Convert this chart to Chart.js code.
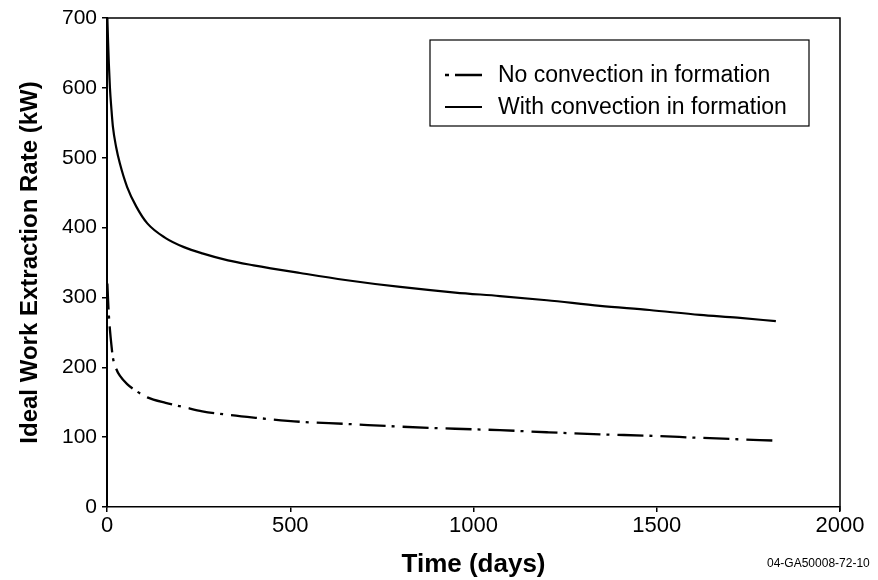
<!DOCTYPE html>
<html>
<head>
<meta charset="utf-8">
<script src="https://cdn.jsdelivr.net/npm/chart.js@4/dist/chart.umd.min.js"></script>
<style>
html,body{margin:0;padding:0;background:#fff;}
#wrap{width:878px;height:580px;position:relative;}
</style>
</head>
<body>
<div id="wrap"><canvas id="c" width="878" height="580"></canvas></div>
<script>
const days = [1, 3, 5, 8, 12, 16, 25, 35, 55, 80, 110, 160, 210, 260, 330, 400, 527, 650, 800, 950, 1072, 1200, 1345, 1480, 1618, 1720, 1825];
const withConvection = [700, 665, 635, 600, 570, 545, 515, 492, 458, 430, 406, 385, 372, 363, 353, 346, 335, 325, 315, 307, 302, 296, 288, 282, 275, 271, 266];
const noConvection = [320, 295, 275, 254, 232, 214, 198, 188, 176, 166, 157, 149, 143, 137, 132, 128, 122, 119, 115, 112, 110, 107, 104, 102, 99, 97, 95];
const seriesNames = ['No convection in formation', 'With convection in formation'];
const xTicks = [0, 500, 1000, 1500, 2000];
const yTicks = [0, 100, 200, 300, 400, 500, 600, 700];
const xTitle = 'Time (days)';
const yTitle = 'Ideal Work Extraction Rate (kW)';
const footnote = '04-GA50008-72-10';

const FONT = "'Liberation Sans', Arial, sans-serif";

const boxPlugin = {
  id: 'boxPlugin',
  afterDraw(chart) {
    const ctx = chart.ctx, a = chart.chartArea;
    ctx.save();
    ctx.strokeStyle = '#000';
    ctx.lineWidth = 1.5;
    ctx.beginPath();
    ctx.moveTo(a.left, a.top); ctx.lineTo(a.right, a.top); ctx.lineTo(a.right, a.bottom + 4);
    ctx.stroke();
    // legend
    const lx = 430, ly = 40, lw = 379, lh = 86;
    ctx.fillStyle = '#fff';
    ctx.fillRect(lx, ly, lw, lh);
    ctx.lineWidth = 1.2;
    ctx.strokeRect(lx, ly, lw, lh);
    ctx.font = '23px ' + FONT;
    ctx.fillStyle = '#000';
    ctx.textBaseline = 'middle';
    const rows = [75, 107];
    chart.data.datasets.forEach((ds, i) => {
      const y = rows[i];
      ctx.save();
      ctx.strokeStyle = '#000';
      ctx.lineWidth = ds.borderWidth;
      ctx.beginPath();
      if (ds.borderDash && ds.borderDash.length) {
        ctx.moveTo(445, y); ctx.lineTo(449, y);
        ctx.moveTo(455, y); ctx.lineTo(482, y);
      } else {
        ctx.moveTo(445, y); ctx.lineTo(482, y);
      }
      ctx.stroke();
      ctx.restore();
      ctx.fillText(ds.label, 498, y + 1);
    });
    // footnote
    ctx.font = '12px ' + FONT;
    ctx.textAlign = 'left';
    ctx.fillText(footnote, 767, 564);
    ctx.restore();
  }
};

new Chart(document.getElementById('c'), {
  type: 'scatter',
  data: {
    datasets: [
      {
        label: seriesNames[0],
        data: days.map((d, i) => ({x: d, y: noConvection[i]})),
        showLine: true, pointRadius: 0, borderColor: '#000', borderWidth: 2.3,
        borderDash: [26, 6, 3, 8], cubicInterpolationMode: 'monotone', fill: false
      },
      {
        label: seriesNames[1],
        data: days.map((d, i) => ({x: d, y: withConvection[i]})),
        showLine: true, pointRadius: 0, borderColor: '#000', borderWidth: 2.2,
        cubicInterpolationMode: 'monotone', fill: false
      }
    ]
  },
  options: {
    responsive: false,
    animation: false,
    devicePixelRatio: 1,
    layout: { padding: { top: 18, right: 38, left: 0, bottom: 0 } },
    plugins: { legend: { display: false }, tooltip: { enabled: false } },
    scales: {
      x: {
        type: 'linear', min: 0, max: 2000,
        afterBuildTicks(s) { s.ticks = xTicks.map(v => ({value: v})); },
        afterFit(s) { s.height = 73; },
        grid: { drawOnChartArea: false, drawTicks: true, tickLength: 5, color: '#000', lineWidth: 1.5 },
        border: { display: true, color: '#000', width: 1.5 },
        ticks: { color: '#000', font: { family: FONT, size: 22 }, padding: 1, maxRotation: 0, callback: v => String(v) },
        title: { display: true, text: xTitle, color: '#000', font: { family: FONT, size: 26, weight: 'bold' }, padding: { top: 6, bottom: 0 } }
      },
      y: {
        type: 'linear', min: 0, max: 700,
        afterBuildTicks(s) { s.ticks = yTicks.map(v => ({value: v})); },
        afterFit(s) { s.width = 107; },
        grid: { drawOnChartArea: false, drawTicks: true, tickLength: 5, color: '#000', lineWidth: 1.5 },
        border: { display: true, color: '#000', width: 2 },
        ticks: { color: '#000', font: { family: FONT, size: 21 }, padding: 5, callback: v => String(v) },
        title: { display: true, text: yTitle, color: '#000', font: { family: FONT, size: 24, weight: 'bold' }, padding: { top: 16, bottom: 6 } }
      }
    }
  },
  plugins: [boxPlugin]
});
</script>
</body>
</html>
